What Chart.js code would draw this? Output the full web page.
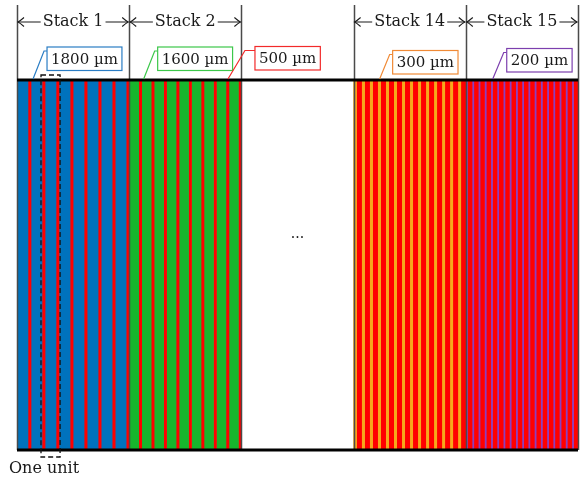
<!DOCTYPE html>
<html>
<head>
<meta charset="utf-8">
<script src="https://cdn.jsdelivr.net/npm/chart.js@4.4.1/dist/chart.umd.min.js"></script>
<style>
  html, body { margin: 0; background: #fff; }
  #wrap { width: 584px; height: 481px; }
</style>
</head>
<body>
<div id="wrap"><canvas id="c"></canvas></div>
<script>
// stacks along the beam, the empty one stands for stacks 3..13
const stackNames = ['Stack 1', 'Stack 2', '', 'Stack 14', 'Stack 15'];
const layerThick = [1800, 1600, 0, 300, 200];   // µm
const spacerThick = 500;                         // µm, red layer
const unitCounts = [8, 9, 0, 14, 18];
const layerColors = ['#0072BD', '#17B62D', null, '#F7A81B', '#8B3FC0'];
const spacerColor = '#FF0000';

// callouts: text, stack, unit, which part of the unit
const calloutText = ['1800 µm', '1600 µm', '500 µm', '300 µm', '200 µm'];
const calloutStack = [0, 1, 1, 3, 4];
const calloutUnit = [1, 1, 7, 3, 4];
const calloutPart = ['layer', 'layer', 'spacer', 'layer', 'layer'];

// style only
const calloutStyle = [
  { dx: 14, top: 47, border: '#2A7DC4' },
  { dx: 14, top: 47, border: '#3CC74A' },
  { dx: 27, top: 46.5, border: '#F22A2A' },
  { dx: 13, top: 50.5, border: '#F08A36' },
  { dx: 14, top: 48.5, border: '#7C3FAE' }
];

// build one dataset per stripe, each stack spans 1 unit on the x axis
const datasets = [];
const stripeStart = {}; // key "stack-unit-part" -> x value
stackNames.forEach((name, s) => {
  let x = s;
  if (unitCounts[s] === 0) {
    datasets.push({ data: [1], backgroundColor: 'rgba(0,0,0,0)' });
    return;
  }
  const total = unitCounts[s] * (layerThick[s] + spacerThick);
  for (let u = 0; u < unitCounts[s]; u++) {
    const a = layerThick[s] / total, b = spacerThick / total;
    stripeStart[s + '-' + u + '-layer'] = x;
    datasets.push({ data: [a], backgroundColor: layerColors[s] });
    x += a;
    stripeStart[s + '-' + u + '-spacer'] = x;
    datasets.push({ data: [b], backgroundColor: spacerColor });
    x += b;
  }
});
datasets.forEach(d => {
  d.borderWidth = 0;
  d.barPercentage = 1;
  d.categoryPercentage = 1;
  d.stack = 'beam';
});

const serif = '"DejaVu Serif", "Liberation Serif", serif';

function arrowHead(ctx, x, y, dir) {
  ctx.beginPath();
  ctx.moveTo(x - dir * 6, y - 4.5);
  ctx.quadraticCurveTo(x - dir * 2, y - 1, x, y);
  ctx.quadraticCurveTo(x - dir * 2, y + 1, x - dir * 6, y + 4.5);
  ctx.stroke();
}

const decor = {
  id: 'decor',
  afterDraw(chart) {
    const ctx = chart.ctx;
    const xs = chart.scales.x;
    const area = chart.chartArea;
    ctx.save();

    // stack borders
    ctx.strokeStyle = '#4a4a4a';
    ctx.lineWidth = 1.5;
    for (let s = 0; s <= stackNames.length; s++) {
      const px = Math.round(xs.getPixelForValue(s)) + 0.5;
      ctx.beginPath();
      ctx.moveTo(px, 5);
      ctx.lineTo(px, area.bottom);
      ctx.stroke();
    }

    // top and bottom rails
    ctx.strokeStyle = '#000';
    ctx.lineWidth = 3;
    [area.top, area.bottom].forEach(y => {
      ctx.beginPath();
      ctx.moveTo(area.left, y);
      ctx.lineTo(area.right, y);
      ctx.stroke();
    });

    // stack headers with arrows
    ctx.font = '16px ' + serif;
    ctx.fillStyle = '#1a1a1a';
    ctx.textAlign = 'center';
    ctx.textBaseline = 'middle';
    ctx.lineWidth = 1.1;
    ctx.strokeStyle = '#1a1a1a';
    stackNames.forEach((name, s) => {
      if (!name) return;
      const l = xs.getPixelForValue(s), r = xs.getPixelForValue(s + 1);
      const c = (l + r) / 2, y = 22;
      const w = ctx.measureText(name).width;
      ctx.fillText(name, c, y);
      ctx.beginPath();
      ctx.moveTo(l + 1, y); ctx.lineTo(c - w / 2 - 2, y);
      ctx.moveTo(c + w / 2 + 2, y); ctx.lineTo(r - 1, y);
      ctx.stroke();
      arrowHead(ctx, l + 1, y, -1);
      arrowHead(ctx, r - 1, y, 1);
    });

    // dots for the skipped stacks
    ctx.font = '14px ' + serif;
    ctx.fillText('...', xs.getPixelForValue(2.5), area.top + 154);

    // callouts
    ctx.font = '15px ' + serif;
    calloutText.forEach((t, i) => {
      const st = calloutStyle[i];
      const key = calloutStack[i] + '-' + calloutUnit[i] + '-' + calloutPart[i];
      const ax = xs.getPixelForValue(stripeStart[key]) + 2;
      const bx = ax + st.dx;
      const w = ctx.measureText(t).width + 8;
      const h = 23.5;
      ctx.strokeStyle = st.border;
      ctx.lineWidth = 1.2;
      ctx.beginPath();
      ctx.moveTo(ax, area.top - 1);
      ctx.lineTo(bx - (st.dx > 20 ? 10 : 3), st.top + 4);
      ctx.lineTo(bx, st.top + 4);
      ctx.stroke();
      ctx.fillStyle = '#fff';
      ctx.fillRect(bx, st.top, w, h);
      ctx.strokeRect(bx, st.top, w, h);
      ctx.fillStyle = '#1a1a1a';
      ctx.fillText(t, bx + w / 2, st.top + h / 2 + 1);
    });

    // one unit marker
    const ul = xs.getPixelForValue(stripeStart['0-1-spacer']) - 1;
    const ur = xs.getPixelForValue(stripeStart['0-3-layer']) + 1;
    ctx.strokeStyle = '#111';
    ctx.lineWidth = 1.3;
    ctx.setLineDash([5, 3]);
    ctx.strokeRect(ul, area.top - 5, ur - ul, area.bottom - area.top + 12);
    ctx.setLineDash([]);
    ctx.font = '16px ' + serif;
    ctx.textAlign = 'left';
    ctx.fillText('One unit', 9, 469);

    ctx.restore();
  }
};

new Chart(document.getElementById('c'), {
  type: 'bar',
  data: { labels: ['beam'], datasets: datasets },
  options: {
    indexAxis: 'y',
    responsive: true,
    maintainAspectRatio: false,
    animation: false,
    layout: { padding: { left: 17, right: 6, top: 80, bottom: 31 } },
    plugins: { legend: { display: false }, tooltip: { enabled: false } },
    scales: {
      x: { type: 'linear', stacked: true, min: 0, max: stackNames.length, display: false },
      y: { stacked: true, display: false }
    }
  },
  plugins: [decor]
});
</script>
</body>
</html>
